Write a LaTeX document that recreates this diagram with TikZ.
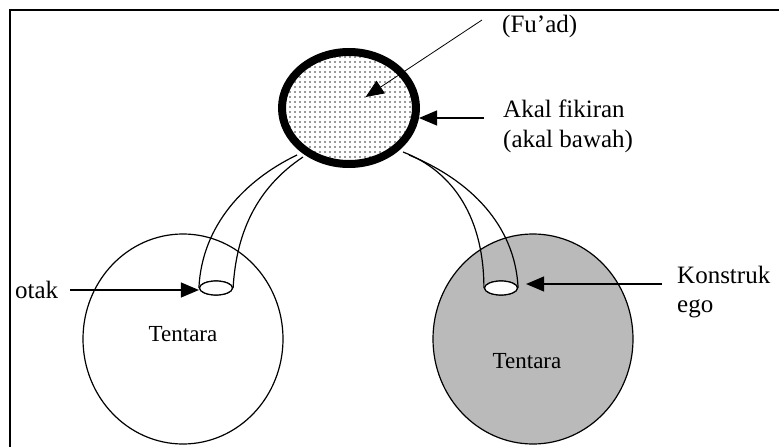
\documentclass[tikz,border=0pt]{standalone}
\usepackage{fontspec}
\setmainfont{Liberation Serif}
\usetikzlibrary{shapes.geometric,arrows.meta,patterns.meta}
\tikzstyle{mind} = [draw, ellipse, line width=8pt, minimum width=134pt,
    minimum height=112pt, inner sep=0pt, preaction={fill=white},
    pattern={Dots[distance=5pt,radius=0.9pt]}, pattern color=black!80]
\tikzstyle{army} = [draw, ellipse, line width=1.2pt, minimum width=200pt,
    minimum height=210pt, inner sep=0pt]
\tikzstyle{hole} = [draw, ellipse, fill=white, line width=1.2pt,
    minimum width=33pt, minimum height=14pt, inner sep=0pt]
\tikzstyle{lbl} = [inner sep=0pt, anchor=base west, font=\fontsize{25}{30}\selectfont]
\tikzstyle{inner} = [inner sep=0pt, anchor=base, font=\fontsize{23}{28}\selectfont]
\tikzstyle{pointer} = [-{Triangle[length=18pt,width=15pt]}, line width=1.2pt]
\tikzstyle{tube} = [line width=1.2pt]

\begin{document}
\begin{tikzpicture}[x=1pt, y=-1pt]
          \useasboundingbox (0,0) rectangle (779,447);
          % frame
          \draw [line width=2.5pt] (10,447) -- (10,10) -- (779,10);

          % Place the shapes
          \node [army] (leftarmy) at (183,339) {};
          \node [army, fill=black!27] (rightarmy) at (533,339) {};
          \node [inner] (lefttext) at (183,341) {Tentara};
          \node [inner] (righttext) at (527,368) {Tentara};
          \node [hole] (otakhole) at (216,288) {};
          \node [hole] (egohole) at (501,288) {};

          % tubes
          \coordinate (lstart) at (297,155);
          \coordinate (linner) at (303,157);
          \coordinate (rstart) at (403,152);
          \coordinate (rinner) at (409,155);
          \draw [tube] (lstart) .. controls +(-52,25) and +(3,-63) .. (otakhole.west);
          \draw [tube] (linner) .. controls +(-48,32) and +(3,-53) .. (otakhole.east);
          \draw [tube] (rstart) .. controls +(52,20) and +(0,-68) .. (egohole.west);
          \draw [tube] (rinner) .. controls +(61,25) and +(-3,-63) .. (egohole.east);
          \node [hole] at (otakhole) {};
          \node [hole] at (egohole) {};

          \node [mind] (fuad) at (349,108) {};

          % Labels
          \node [lbl] (fuadlbl) at (502,32) {(Fu'ad)};
          \node [lbl] (akal) at (503,117) {Akal fikiran};
          \node [lbl] (akalsub) at (503,147) {(akal bawah)};
          \node [lbl] (otak) at (15,298) {otak};
          \node [lbl] (konstruk) at (677,283) {Konstruk};
          \node [lbl] (ego) at (677,312) {ego};

          % Connections
          \coordinate (fuadtail) at (482,20);
          \coordinate (akaltail) at (484,118);
          \coordinate (otaktail) at (70,290);
          \coordinate (egotail) at (662,284);
          \draw [pointer, line width=0.8pt, shorten >=20pt] (fuadtail) -- (fuad.center);
          \draw [pointer, shorten >=-1pt] (akaltail) -- (akaltail -| fuad.east);
          \draw [pointer] (otaktail) -- (otaktail -| otakhole.west);
          \draw [pointer, shorten >=8pt] (egotail) -- (egotail -| egohole.east);
      \end{tikzpicture}
\end{document}
